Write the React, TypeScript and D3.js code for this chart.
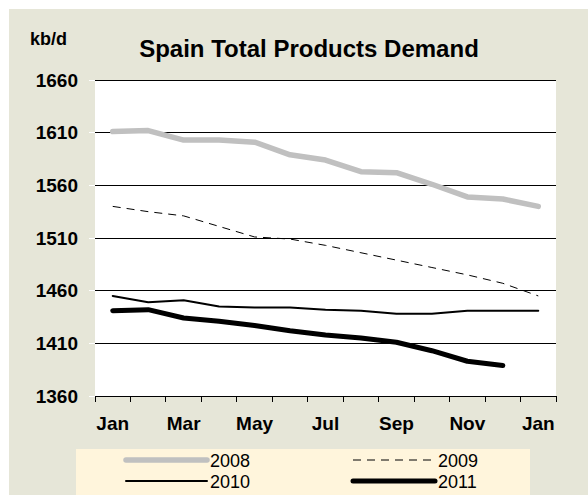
import * as d3 from 'd3';
import React from 'react';

// months shown on the x axis (Jan to Jan of next year)
const months = ['Jan', 'Feb', 'Mar', 'Apr', 'May', 'Jun', 'Jul', 'Aug', 'Sep', 'Oct', 'Nov', 'Dec', 'Jan'];
const yTicks = [1360, 1410, 1460, 1510, 1560, 1610, 1660];

const y2008 = [1611, 1612, 1603, 1603, 1601, 1589, 1584, 1573, 1572, 1561, 1549, 1547, 1540];
const y2009 = [1540, 1535, 1531, 1521, 1511, 1509, 1503, 1496, 1489, 1482, 1475, 1467, 1455];
const y2010 = [1455, 1449, 1451, 1445, 1444, 1444, 1442, 1441, 1438, 1438, 1441, 1441, 1441];
const y2011 = [1441, 1442, 1434, 1431, 1427, 1422, 1418, 1415, 1411, 1403, 1393, 1389];

const W = 588;
const H = 496;
const margin = { top: 80, right: 32, bottom: 100, left: 95 };
const font = 'Liberation Sans, Arial, sans-serif';

const series = [
    { name: '2008', values: y2008, color: '#c0c0c0', width: 5.5, dash: null },
    { name: '2009', values: y2009, color: '#000', width: 1, dash: '8,6' },
    { name: '2010', values: y2010, color: '#000', width: 2, dash: null },
    { name: '2011', values: y2011, color: '#000', width: 5, dash: null },
];

const App = () => {
    const x = d3.scaleBand<number>()
        .domain(d3.range(months.length))
        .range([margin.left, W - margin.right]);
    const y = d3.scaleLinear()
        .domain([1360, 1660])
        .range([H - margin.bottom, margin.top]);

    const line = d3.line<number>()
        .x((d, i) => x(i)! + x.bandwidth() / 2)
        .y(d => y(d));

    const legendPos = [
        { x1: 126, x2: 207, y: 460, tx: 210, ty: 467 },
        { x1: 353, x2: 435, y: 460, tx: 438, ty: 467 },
        { x1: 126, x2: 207, y: 481, tx: 210, ty: 488 },
        { x1: 353, x2: 435, y: 481, tx: 438, ty: 488 },
    ];

    return (
        <div style={{ position: 'absolute', left: 0, top: 0 }}>
            <svg width={W} height={H} style={{ display: 'block' }}>
                <rect x={0} y={0} width={W} height={H} fill="#fff" />
                <rect x={9} y={9} width={W - 9} height={486} fill="#e6e6d8" />
                <rect x={margin.left} y={margin.top} width={W - margin.right - margin.left}
                    height={H - margin.bottom - margin.top} fill="#fff" />

                {/* grid + y ticks */}
                {yTicks.map(t => (
                    <g key={t}>
                        <line x1={margin.left} x2={W - margin.right} y1={y(t)} y2={y(t)}
                            stroke="#000" strokeWidth={1} shapeRendering="crispEdges" />
                        <line x1={89} x2={margin.left} y1={y(t)} y2={y(t)}
                            stroke="#fff" strokeWidth={1} shapeRendering="crispEdges" />
                        <text x={78} y={y(t) + 6.5} textAnchor="end" fontFamily={font}
                            fontWeight="bold" fontSize={19}>{t}</text>
                    </g>
                ))}

                {/* x ticks */}
                {d3.range(months.length + 1).map(i => {
                    const xx = i < months.length ? x(i)! : W - margin.right;
                    return <line key={i} x1={xx} x2={xx} y1={y(1360)} y2={y(1360) + 6}
                        stroke="#000" strokeWidth={1} shapeRendering="crispEdges" />;
                })}
                {months.map((m, i) => i % 2 === 0 ? (
                    <text key={i} x={x(i)! + x.bandwidth() / 2} y={430} textAnchor="middle"
                        fontFamily={font} fontWeight="bold" fontSize={19}>{m}</text>
                ) : null)}

                {series.map(s => (
                    <path key={s.name} d={line(s.values)!} fill="none" stroke={s.color}
                        strokeWidth={s.width} strokeDasharray={s.dash ?? undefined}
                        strokeLinejoin="round" strokeLinecap={s.dash ? 'butt' : 'round'} />
                ))}

                <text x={30} y={45} fontFamily={font} fontWeight="bold" fontSize={18}>kb/d</text>
                <text x={309} y={57} textAnchor="middle" fontFamily={font} fontWeight="bold"
                    fontSize={24}>Spain Total Products Demand</text>

                {/* legend */}
                <rect x={76} y={449} width={454} height={46} fill="#fff5dc" />
                {series.map((s, i) => (
                    <g key={s.name}>
                        <line x1={legendPos[i].x1} x2={legendPos[i].x2} y1={legendPos[i].y}
                            y2={legendPos[i].y} stroke={s.color} strokeWidth={s.width}
                            strokeDasharray={s.dash ?? undefined}
                            strokeLinecap={s.dash ? 'butt' : 'round'} />
                        <text x={legendPos[i].tx} y={legendPos[i].ty} fontFamily={font}
                            fontSize={18}>{s.name}</text>
                    </g>
                ))}
            </svg>
        </div>
    );
};

export default App;
